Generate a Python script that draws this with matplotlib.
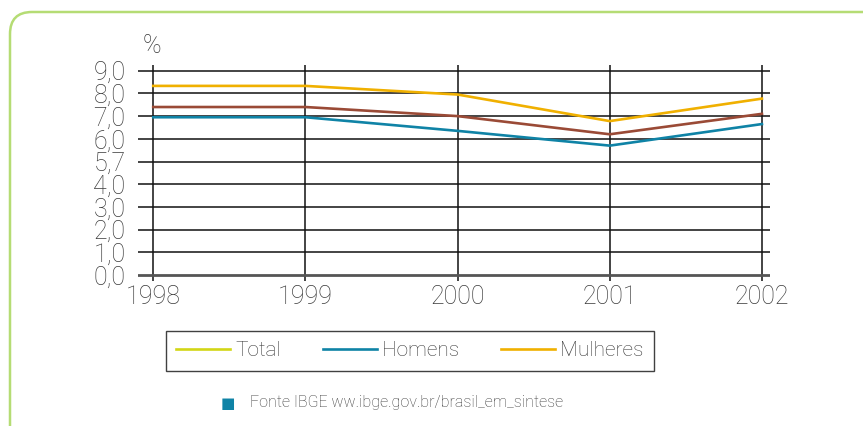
import matplotlib
matplotlib.use("Agg")
import matplotlib.pyplot as plt
from matplotlib.lines import Line2D
from matplotlib.patches import FancyBboxPatch
from matplotlib.transforms import IdentityTransform

# data
years = [1998, 1999, 2000, 2001, 2002]
total = [7.4, 7.4, 7.0, 6.2, 7.1]
homens = [6.95, 6.95, 6.35, 5.7, 6.65]
mulheres = [8.33, 8.33, 7.95, 6.78, 7.77]
y_ticks = [0, 1, 2, 3, 4, 5, 6, 7, 8, 9]
y_labels = ["0,0", "1,0", "2,0", "3,0", "4,0", "5,7", "6,0", "7,0", "8,0", "9,0"]
source = "Fonte IBGE ww.ibge.gov.br/brasil_em_sintese"

plt.rcParams["font.family"] = ["Roboto", "DejaVu Sans"]
plt.rcParams["font.weight"] = "light"

txt = "#3a3a3a"
c_total = "#9a4a36"
c_total_leg = "#d2d616"
c_hom = "#0f83a6"
c_mul = "#f0b000"

fig = plt.figure(figsize=(8.63, 4.26), dpi=100)
ax = fig.add_axes([138 / 863, 145 / 426, 632 / 863, 216 / 426])

ax.plot(years, mulheres, color=c_mul, lw=1.9, zorder=3)
ax.plot(years, total, color=c_total, lw=1.9, zorder=3)
ax.plot(years, homens, color=c_hom, lw=1.9, zorder=3)

ax.set_xlim(1998 - 0.1, 2002 + 0.053)
ax.set_ylim(-0.26, 9.25)
ax.set_xticks(years)
ax.set_xticklabels([str(y) for y in years])
ax.set_yticks(y_ticks)
ax.set_yticklabels(y_labels)
ax.tick_params(length=0, labelsize=18, labelcolor=txt)
ax.tick_params(axis="y", pad=9)
ax.tick_params(axis="x", pad=3)
for s in ax.spines.values():
    s.set_visible(False)
ax.grid(True, color="#111111", lw=1.1, zorder=1)
ax.get_ygridlines()[0].set(color="#555555", lw=2)

fig.text(152 / 863, 1 - 46 / 426, "%", fontsize=18, color=txt, ha="center", va="center")

handles = [
    Line2D([], [], color=c_total_leg, lw=1.9),
    Line2D([], [], color=c_hom, lw=1.9),
    Line2D([], [], color=c_mul, lw=1.9),
]
leg = fig.legend(handles, ["Total", "Homens", "Mulheres"], loc="center",
                 bbox_to_anchor=(410 / 863, 1 - 351 / 426), ncol=3,
                 fontsize=15, frameon=True, fancybox=False, edgecolor="#111111",
                 handlelength=2.6, handletextpad=0.25, columnspacing=2.0,
                 borderpad=0.5)
leg.get_frame().set_linewidth(1.0)
for t in leg.get_texts():
    t.set_color(txt)

fig.text(228 / 863, 1 - 403 / 426, "\u25a0", fontsize=11, color=c_hom, ha="center", va="center",
         family="DejaVu Sans", fontweight="normal")
fig.text(250 / 863, 1 - 403 / 426, source, fontsize=11.5, color=txt, ha="left", va="center")

frame = FancyBboxPatch((10, -30), 875, 444, boxstyle="round,pad=0,rounding_size=22",
                       transform=IdentityTransform(), fill=False, edgecolor="#b5dc74", lw=1.8)
fig.patches.append(frame)

fig.savefig("out.png", dpi=100)
